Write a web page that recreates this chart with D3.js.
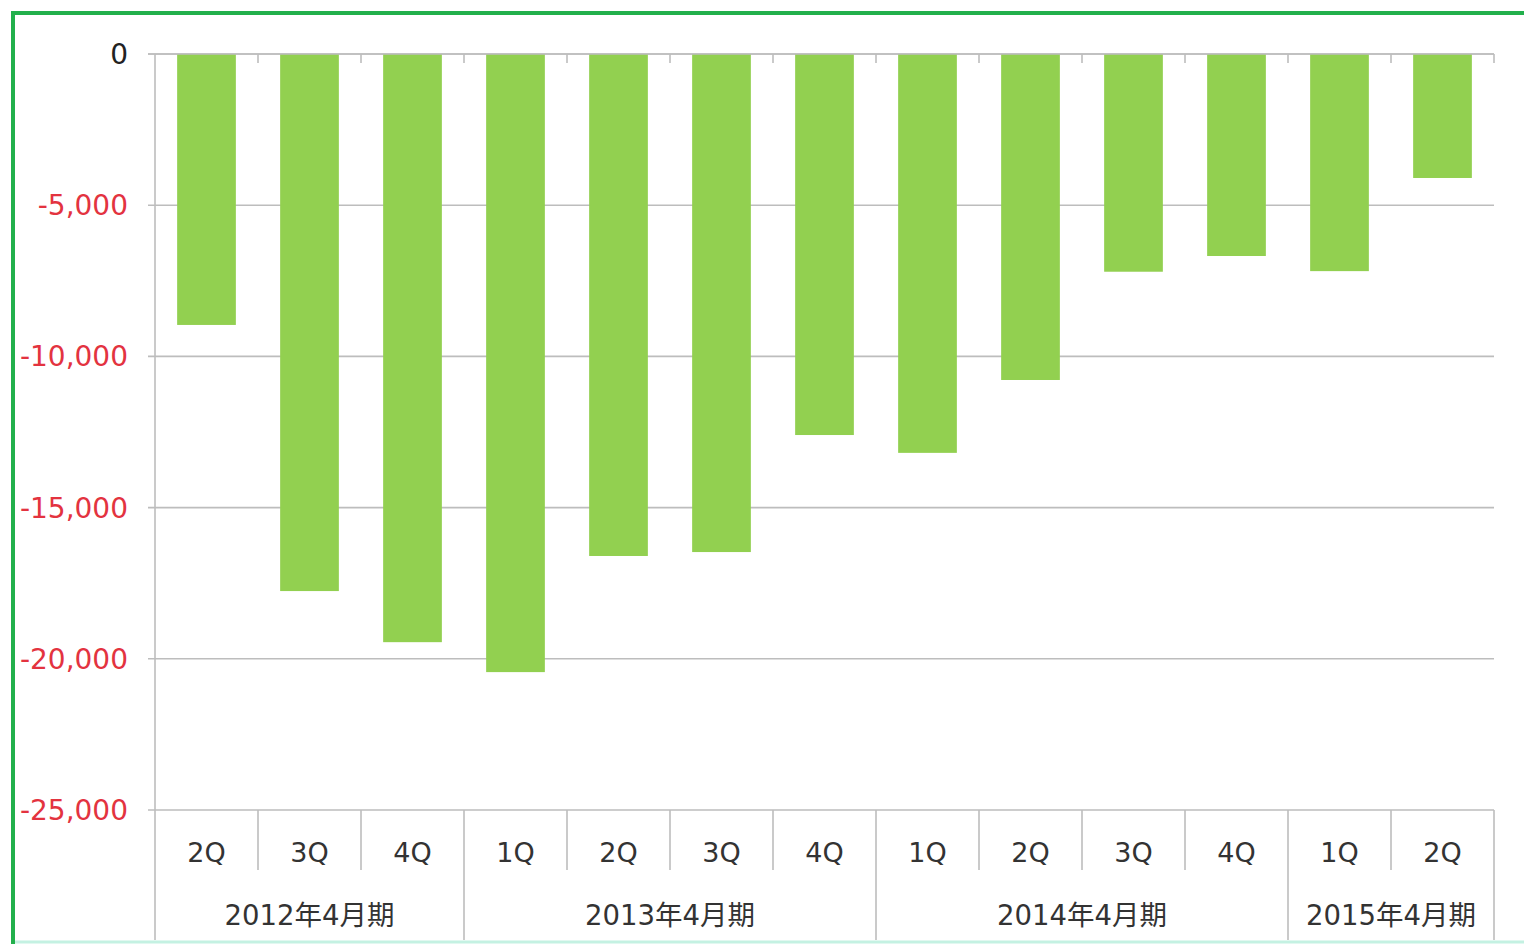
<!DOCTYPE html>
<html><head><meta charset="utf-8">
<script src="https://cdn.jsdelivr.net/npm/d3@7"></script>
<style>body{margin:0;background:#fff;overflow:hidden}svg{display:block}</style>
</head><body>
<script>
const quarters = ["2Q","3Q","4Q","1Q","2Q","3Q","4Q","1Q","2Q","3Q","4Q","1Q","2Q"];
const values = [-8960,-17760,-19450,-20440,-16600,-16470,-12600,-13190,-10780,-7200,-6680,-7180,-4100];
const groups = ["2012年4月期","2013年4月期","2014年4月期","2015年4月期"];
const groupSizes = [3,4,4,2];
const yTicks = [0,-5000,-10000,-15000,-20000,-25000];

const W=1524,H=944;
const L=155,R=1494,T=54,B=810;
const svg=d3.select("body").append("svg").attr("width",W).attr("height",H);
const font="DejaVu Sans, Verdana, 'Noto Sans CJK JP', sans-serif";
const grid="#bdbdbd";

// frame
svg.append("rect").attr("x",13).attr("y",13).attr("width",W+20).attr("height",H+20)
  .attr("fill","none").attr("stroke","#22b04c").attr("stroke-width",4);
svg.append("line").attr("x1",15).attr("x2",W).attr("y1",942).attr("y2",942)
  .attr("stroke","#c4f1e2").attr("stroke-width",3);

const x=d3.scaleBand().domain(d3.range(quarters.length)).range([L,R]).paddingInner(0.43).paddingOuter(0.215);
const y=d3.scaleLinear().domain([0,-25000]).range([T,B]);
const step=x.step();

const loc=d3.formatLocale({decimal:".",thousands:",",grouping:[3],currency:["",""],minus:"-"});
const fmt=loc.format(",");

// gridlines
svg.append("g").selectAll("line").data(yTicks).join("line")
  .attr("x1",L-7).attr("x2",R).attr("y1",d=>y(d)).attr("y2",d=>y(d))
  .attr("stroke",grid).attr("stroke-width",1.6);

// y labels
svg.append("g").selectAll("text").data(yTicks).join("text")
  .attr("x",128).attr("y",d=>y(d)).attr("dy","0.36em").attr("text-anchor","end")
  .attr("font-family",font).attr("font-size",28)
  .attr("fill",d=>d<0?"#e3333f":"#222").text(d=>fmt(d));

// bars
svg.append("g").selectAll("rect").data(values).join("rect")
  .attr("x",(d,i)=>x(i)).attr("width",x.bandwidth())
  .attr("y",y(0)).attr("height",d=>y(d)-y(0)).attr("fill","#92d050");

// top axis line redrawn over bars
svg.append("line").attr("x1",L-7).attr("x2",R).attr("y1",T).attr("y2",T).attr("stroke",grid).attr("stroke-width",1.6);
// top category ticks
svg.append("g").selectAll("line").data(d3.range(1,quarters.length+1)).join("line")
  .attr("x1",i=>L+i*step).attr("x2",i=>L+i*step).attr("y1",T).attr("y2",T+9)
  .attr("stroke",grid).attr("stroke-width",1.6);

// vertical axis
svg.append("line").attr("x1",L).attr("x2",L).attr("y1",T).attr("y2",940).attr("stroke",grid).attr("stroke-width",1.6);

// quarter separators
const gStarts=[0];groupSizes.forEach((s,i)=>gStarts.push(gStarts[i]+s));
svg.append("g").selectAll("line").data(d3.range(1,quarters.length)).join("line")
  .attr("x1",i=>L+i*step).attr("x2",i=>L+i*step).attr("y1",B)
  .attr("y2",i=>gStarts.includes(i)?940:870)
  .attr("stroke",grid).attr("stroke-width",1.6);
svg.append("line").attr("x1",R).attr("x2",R).attr("y1",B).attr("y2",940).attr("stroke",grid).attr("stroke-width",1.6);

// quarter labels
svg.append("g").selectAll("text").data(quarters).join("text")
  .attr("x",(d,i)=>x(i)+x.bandwidth()/2).attr("y",852).attr("dy","0.36em")
  .attr("text-anchor","middle").attr("font-family",font).attr("font-size",27).attr("fill","#333").text(d=>d);

// group labels
svg.append("g").selectAll("text").data(groups).join("text")
  .attr("x",(d,i)=>L+(gStarts[i]+groupSizes[i]/2)*step).attr("y",915).attr("dy","0.36em")
  .attr("text-anchor","middle").attr("font-family",font).attr("font-size",27.5).attr("fill","#333").text(d=>d);
</script>
</body></html>
